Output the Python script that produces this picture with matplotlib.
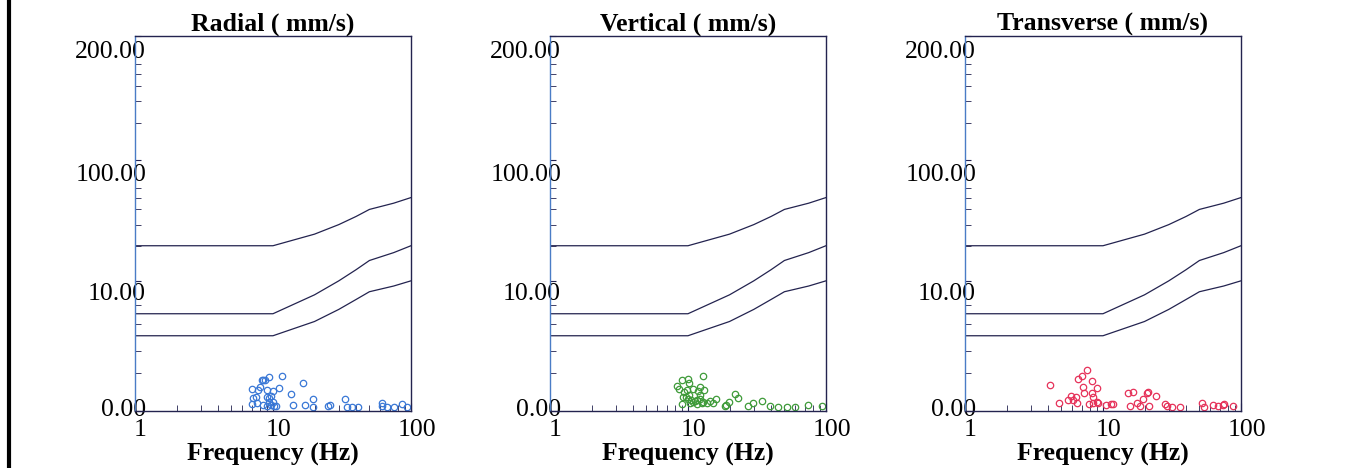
import numpy as np
import matplotlib.pyplot as plt
from matplotlib.lines import Line2D
from matplotlib.ticker import FixedLocator, NullFormatter
from matplotlib.transforms import ScaledTranslation

plt.rcParams['font.family'] = ['Liberation Serif', 'DejaVu Serif']

# limit curves (mm/s against Hz)
curve_freq = [1, 10, 20, 30, 40, 50, 75, 100]
curve_upper = [20, 20, 25, 30, 35, 40, 45, 50]
curve_middle = [5, 5, 7.5, 10, 12.5, 15, 17.5, 20]
curve_lower = [3, 3, 4.2, 5.5, 6.8, 8, 9, 10]

panel_titles = ['Radial ( mm/s)', 'Vertical ( mm/s)', 'Transverse ( mm/s)']
ytick_values = [0, 10, 100, 1000]
ytick_labels = ['0.00', '10.00', '100.00', '200.00']
yminor_values = [1, 2, 4, 6, 20, 30, 40, 50, 60, 200, 300, 400, 500, 600]
xtick_values = [1, 10, 100]
xtick_labels = ['1', '10', '100']

radial_freq = [7.08, 7.83, 8.51, 8.28, 8.75, 9.4, 11.7, 9.0, 9.95, 11.0, 16.6, 13.4,
               8.05, 7.2, 7.53, 9.0, 9.3, 9.6, 7.0, 7.7, 8.51, 9.0, 9.6, 10.2,
               10.6, 13.9, 17.1, 19.4, 19.6, 25.2, 25.9, 33.2, 34.2, 37.2, 41.5,
               61.3, 61.3, 67.3, 75.3, 85.5, 94.0, 9.4, 9.95]
radial_ppv = [0.494, 0.476, 0.754, 0.776, 0.776, 0.854, 0.912, 0.476, 0.458, 0.522,
              0.670, 0.379, 0.570, 0.264, 0.288, 0.304, 0.264, 0.320, 0.138, 0.153,
              0.117, 0.097, 0.117, 0.097, 0.097, 0.117, 0.117, 0.241, 0.084, 0.097,
              0.117, 0.257, 0.084, 0.084, 0.084, 0.167, 0.097, 0.084, 0.084, 0.138,
              0.084, 0.189, 0.189]

vertical_freq = [8.28, 9.0, 10.05, 10.2, 12.8, 8.65, 9.35, 9.78, 10.9, 11.9, 13.1,
                 12.2, 9.15, 9.67, 10.05, 10.6, 11.2, 11.6, 12.2, 12.9, 13.7, 14.4,
                 15.3, 16.0, 9.0, 10.3, 10.9, 11.6, 12.6, 18.9, 19.9, 18.5, 21.9,
                 23.2, 27.4, 29.7, 34.2, 39.3, 45.2, 51.9, 59.6, 74.5, 93.0, 10.2, 12.2]
vertical_ppv = [0.589, 0.776, 0.798, 0.690, 0.912, 0.494, 0.431, 0.476, 0.494, 0.458,
                0.476, 0.570, 0.288, 0.304, 0.241, 0.226, 0.211, 0.226, 0.241, 0.189,
                0.167, 0.211, 0.153, 0.257, 0.138, 0.153, 0.181, 0.138, 0.167, 0.117,
                0.189, 0.097, 0.379, 0.280, 0.097, 0.167, 0.211, 0.097, 0.084, 0.084,
                0.084, 0.117, 0.097, 0.345, 0.345]

transverse_freq = [4.13, 4.83, 5.61, 5.83, 6.1, 6.37, 6.45, 6.62, 7.0, 7.2, 7.28, 7.62,
                   8.28, 8.28, 8.51, 9.0, 7.96, 8.51, 9.25, 9.0, 10.6, 11.4, 11.9,
                   15.3, 16.6, 15.7, 17.7, 18.5, 19.6, 20.7, 21.3, 21.7, 24.2, 28.1,
                   28.9, 31.5, 36.1, 51.9, 53.9, 63.1, 68.6, 73.6, 75.3, 87.9]
transverse_ppv = [0.619, 0.167, 0.226, 0.320, 0.226, 0.304, 0.153, 0.798, 0.889, 0.550,
                  0.404, 1.137, 0.722, 0.404, 0.288, 0.522, 0.138, 0.153, 0.153, 0.189,
                  0.117, 0.138, 0.138, 0.387, 0.431, 0.097, 0.153, 0.097, 0.241, 0.404,
                  0.431, 0.097, 0.320, 0.138, 0.097, 0.084, 0.084, 0.167, 0.084, 0.117,
                  0.097, 0.117, 0.138, 0.097]

series = [(radial_freq, radial_ppv, '#3a78d6'),
          (vertical_freq, vertical_ppv, '#3f9b3a'),
          (transverse_freq, transverse_ppv, '#e6325a')]


def forward(v):
    return np.log10(np.asarray(v, dtype=float) + 1.0)


def inverse(y):
    return 10.0 ** np.asarray(y, dtype=float) - 1.0


fig = plt.figure(figsize=(13.54, 4.68), dpi=100)
lefts = [0.0997, 0.4062, 0.7127]
line_col = '#23234f'

for left, title, (fx, fy, col) in zip(lefts, panel_titles, series):
    ax = fig.add_axes([left, 0.1218, 0.2038, 0.8013])
    ax.set_xscale('log')
    ax.set_yscale('function', functions=(forward, inverse))
    ax.set_xlim(1, 100)
    ax.set_ylim(0, 1000)

    for curve in (curve_upper, curve_middle, curve_lower):
        ax.plot(curve_freq, curve, color=line_col, lw=0.9)
    ax.plot(fx, fy, 'o', mfc='none', mec=col, ms=4.6, mew=0.9, clip_on=False)

    ax.set_title(title, fontsize=18.5, fontweight='bold', pad=3)
    ax.set_xlabel('Frequency (Hz)', fontsize=18.5, fontweight='bold', labelpad=0.8)

    ax.xaxis.set_major_locator(FixedLocator(xtick_values))
    ax.set_xticklabels(xtick_labels)
    ax.xaxis.set_minor_locator(FixedLocator([2, 3, 4, 5, 6, 7, 8, 9,
                                             20, 30, 40, 50, 60, 70, 80, 90]))
    ax.xaxis.set_minor_formatter(NullFormatter())
    ax.tick_params(axis='x', which='both', direction='in', colors=line_col,
                   labelcolor='black', labelsize=18.5, pad=6)
    ax.tick_params(axis='x', which='major', length=6)
    ax.tick_params(axis='x', which='minor', length=4)
    for lab in ax.get_xticklabels():
        lab.set_transform(lab.get_transform()
                          + ScaledTranslation(4 / 72, 0, fig.dpi_scale_trans))

    ax.yaxis.set_major_locator(FixedLocator(ytick_values))
    ax.set_yticklabels(ytick_labels)
    ax.yaxis.set_minor_locator(FixedLocator(yminor_values))
    ax.yaxis.set_minor_formatter(NullFormatter())
    ax.tick_params(axis='y', which='both', direction='in', colors=line_col,
                   labelcolor='black', labelsize=18.5, length=4, pad=-8)
    for lab, dy in zip(ax.get_yticklabels(), [2.5, -8, -9, -10]):
        lab.set_transform(lab.get_transform()
                          + ScaledTranslation(0, dy / 72, fig.dpi_scale_trans))

    for side in ('top', 'bottom', 'right'):
        ax.spines[side].set_color(line_col)
        ax.spines[side].set_linewidth(1.0)
    ax.spines['left'].set_color('#4a7cc6')
    ax.spines['left'].set_linewidth(1.0)

fig.add_artist(Line2D([0.0066, 0.0066], [0, 1], transform=fig.transFigure,
                      color='black', lw=3))

fig.savefig('out.png', dpi=100)
